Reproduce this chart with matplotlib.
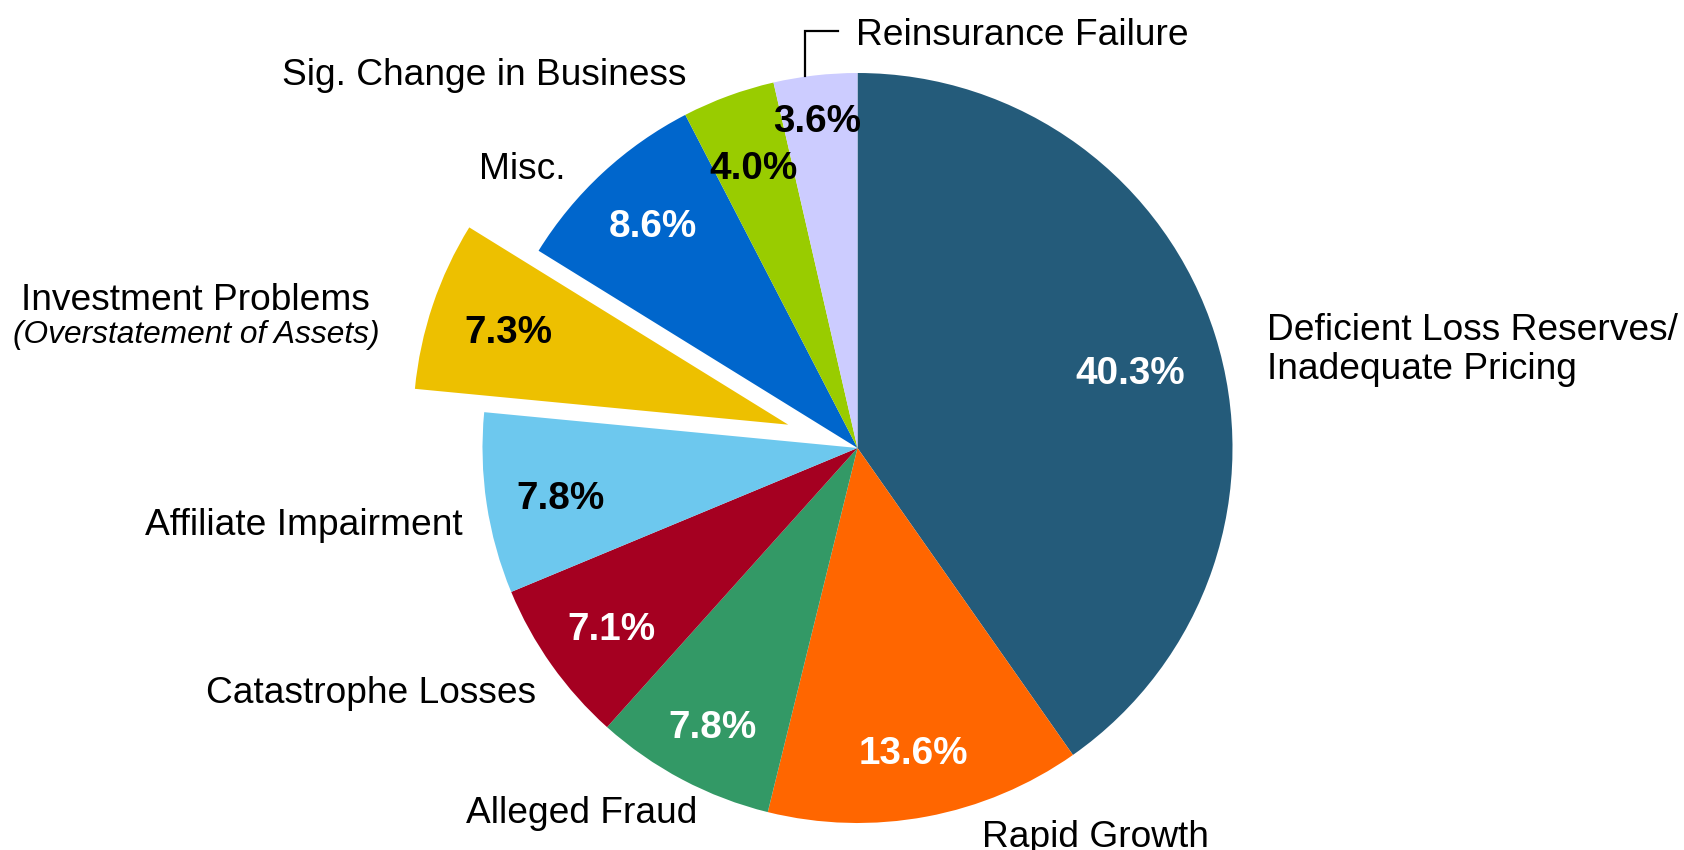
import matplotlib
matplotlib.use("Agg")
import matplotlib.pyplot as plt

plt.rcParams["font.family"] = ["Liberation Sans", "DejaVu Sans"]

# ---- data ----
categories = ["Deficient Loss Reserves/\nInadequate Pricing", "Rapid Growth", "Alleged Fraud",
              "Catastrophe Losses", "Affiliate Impairment", "Investment Problems",
              "Misc.", "Sig. Change in Business", "Reinsurance Failure"]
values = [40.3, 13.6, 7.8, 7.1, 7.8, 7.3, 8.6, 4.0, 3.6]
sub_label = "(Overstatement of Assets)"

# ---- styles ----
colors = ["#245B7A", "#FF6600", "#339966", "#A50021", "#6DC8EE",
          "#EDC000", "#0066CC", "#99CC00", "#CCCCFF"]
pct_colors = ["white", "white", "white", "white", "black",
              "black", "white", "black", "black"]
explode = [0, 0, 0, 0, 0, 0.195, 0, 0, 0]

W, H = 1684, 850
CX, CY, R = 857.5, 448.0, 375.0
LABEL_FS = 26.7
PCT_FS = 27.8


def px(x, y):
    return (x - CX) / R, (CY - y) / R


fig = plt.figure(figsize=(16.84, 8.5), dpi=100)
ax = fig.add_axes([0, 0, 1, 1])
wedges, _ = ax.pie(values, colors=colors, startangle=90, counterclock=False,
                   explode=explode, radius=1, center=(0, 0),
                   wedgeprops=dict(linewidth=0))
ax.set_xlim((0 - CX) / R, (W - CX) / R)
ax.set_ylim((CY - H) / R, CY / R)
ax.set_aspect("auto")
ax.axis("off")

# percent labels (center x, baseline y in pixels)
pct_pos = [(1130, 384), (913, 764), (713, 738), (611, 640), (561, 509),
           (508, 343), (653, 237), (754, 179), (817, 132)]
for v, (x, y), c in zip(values, pct_pos, pct_colors):
    ax.text(*px(x, y), f"{v:.1f}%", ha="center", va="baseline",
            fontsize=PCT_FS, fontweight="bold", color=c)

# category labels (x, baseline y, ha)
lab_pos = [(1267, 340, "left"), (982, 847, "left"), (466, 823, "left"),
           (536, 703, "right"), (463, 535, "right"), (195, 310, "center"),
           (566, 179, "right"), (686, 85, "right"), (856, 45, "left")]
for name, (x, y, ha) in zip(categories, lab_pos):
    if "\n" in name:
        l1, l2 = name.split("\n")
        ax.text(*px(x, y), l1, ha=ha, va="baseline", fontsize=LABEL_FS)
        ax.text(*px(x, y + 39), l2, ha=ha, va="baseline", fontsize=LABEL_FS)
    else:
        ax.text(*px(x, y), name, ha=ha, va="baseline", fontsize=LABEL_FS)

ax.text(*px(196, 343), sub_label, ha="center", va="baseline",
        fontsize=22.8, style="italic")

# leader line for Reinsurance Failure
lx, ly = zip(px(805, 76), px(805, 31), px(838, 31))
ax.plot(lx, ly, color="black", lw=1.6, solid_joinstyle="miter")

fig.savefig("out.png", dpi=100, facecolor="white")
